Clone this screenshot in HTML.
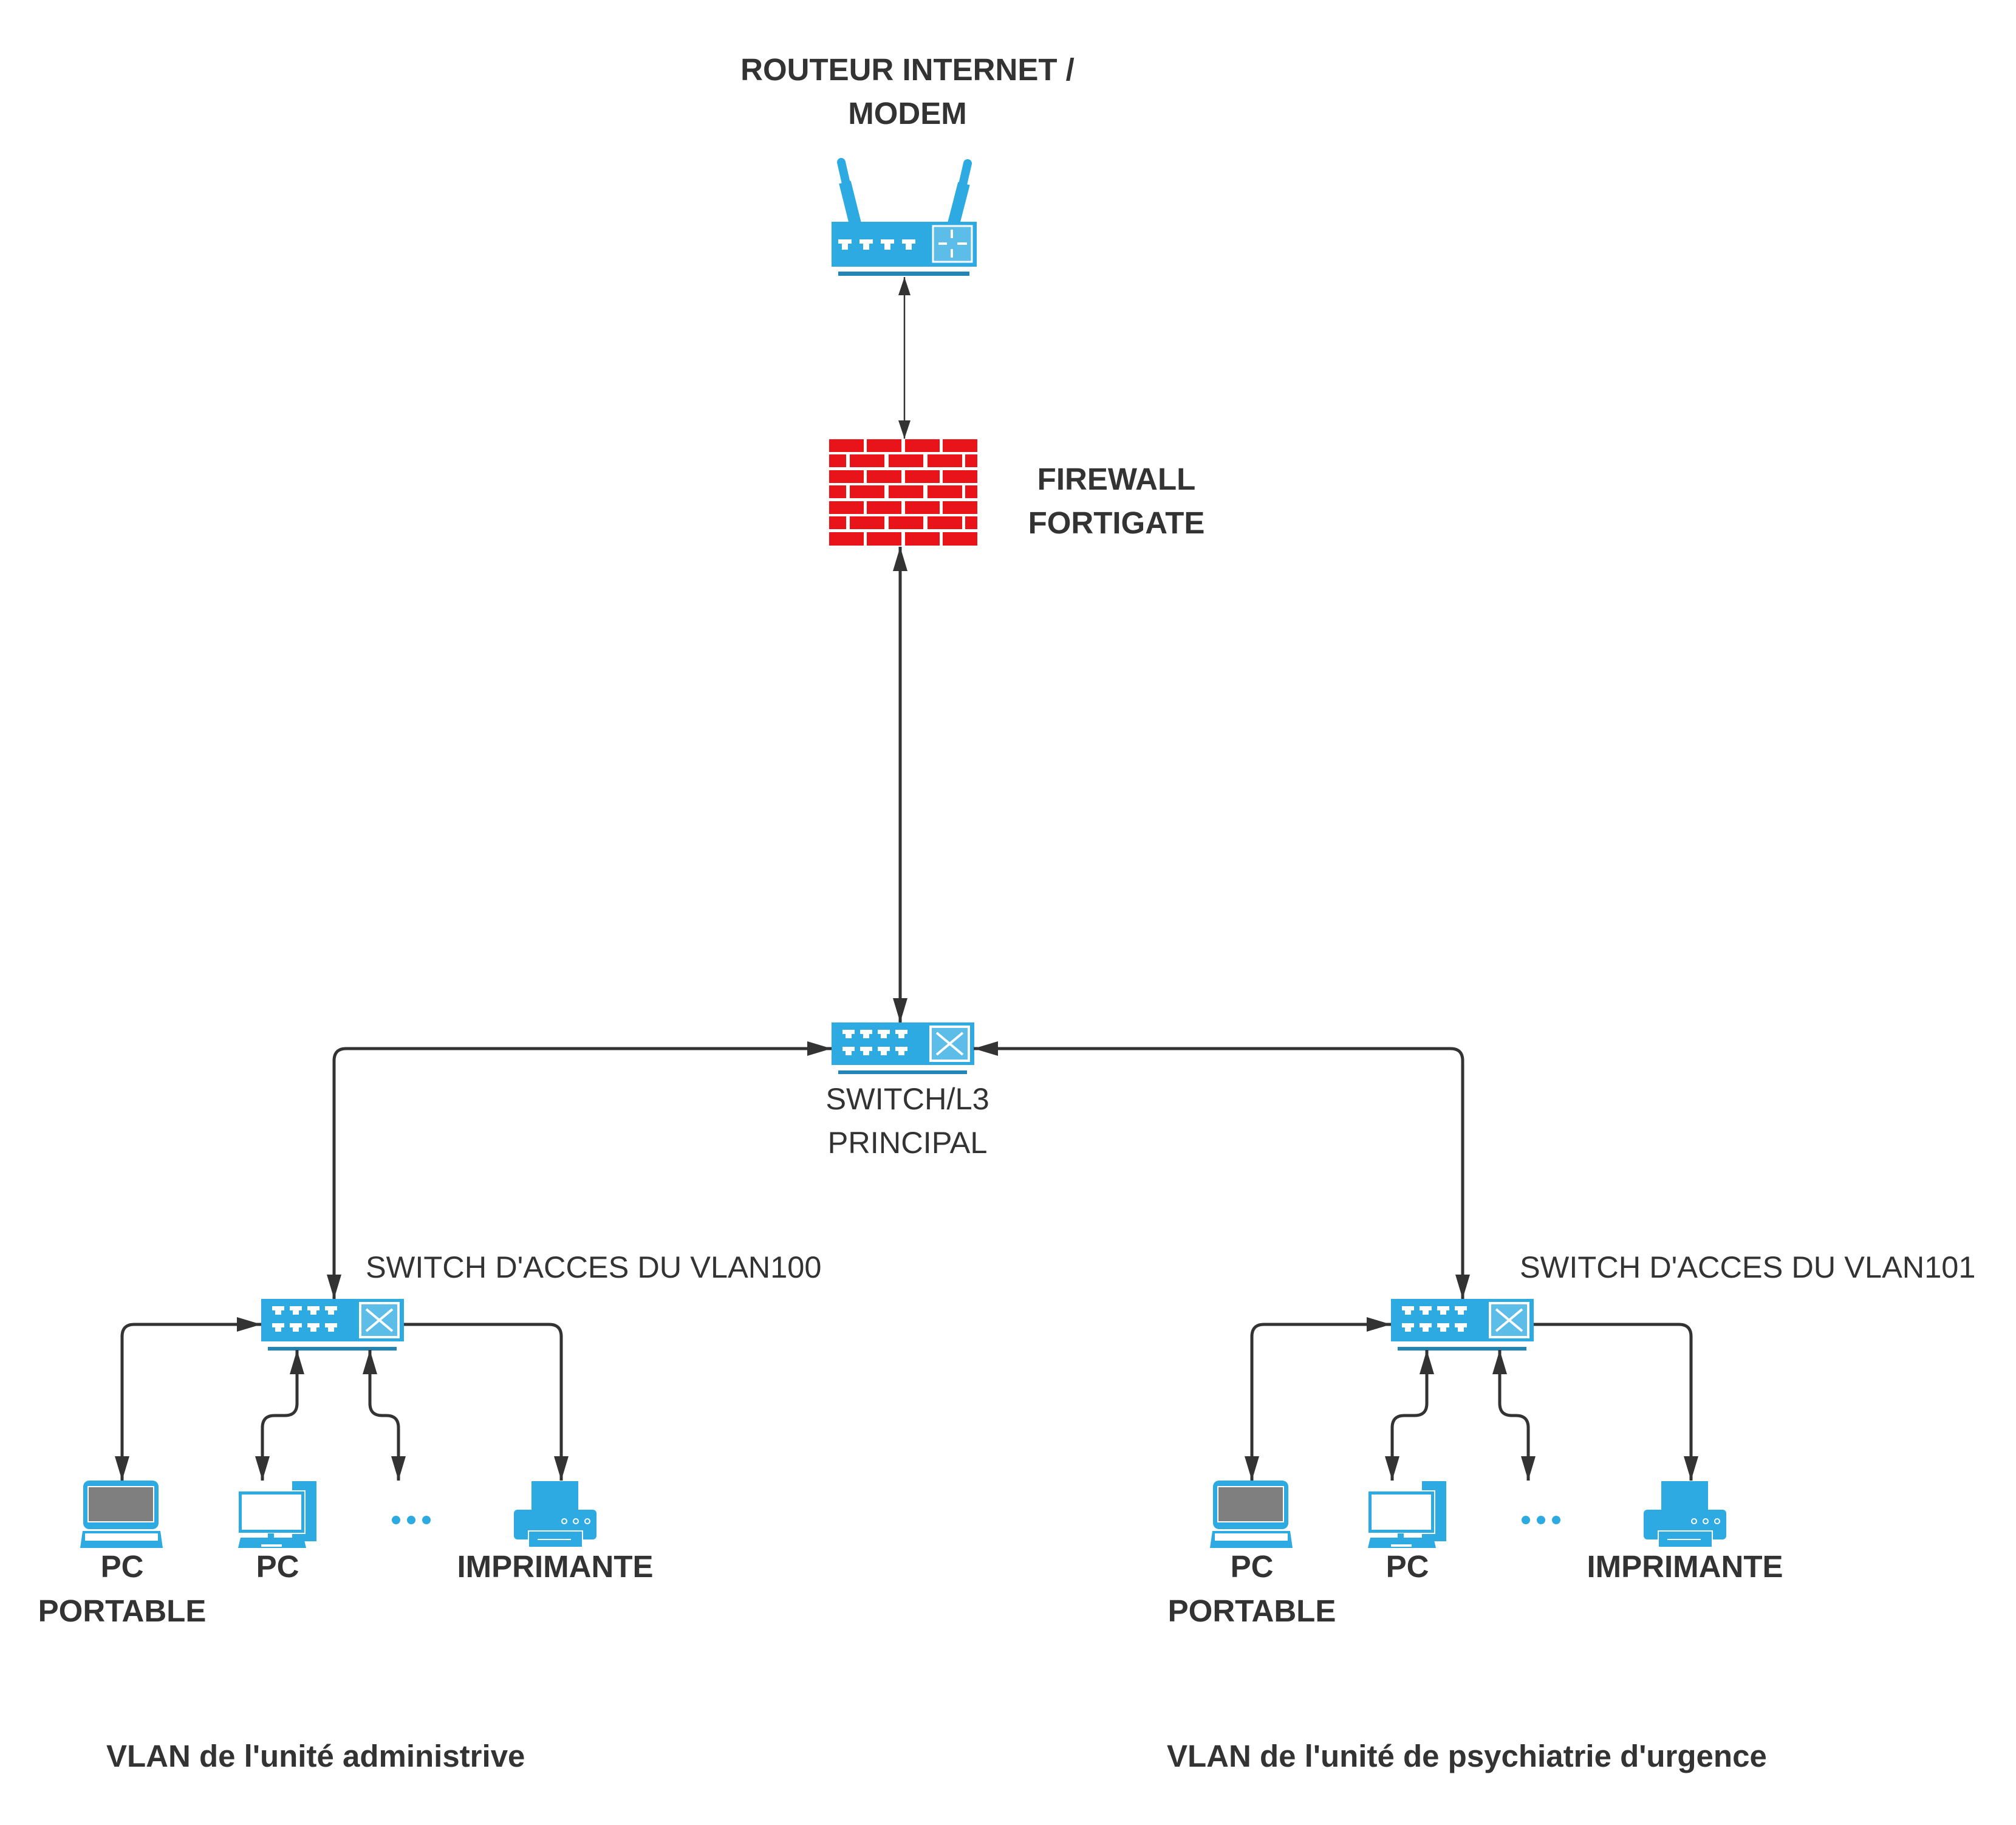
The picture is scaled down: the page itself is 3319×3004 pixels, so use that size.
<!DOCTYPE html>
<html><head><meta charset="utf-8"><style>
html,body{margin:0;padding:0;background:#fff;}
svg{display:block;}
text{font-family:"Liberation Sans",sans-serif;fill:#333;}
.b{font-weight:bold;font-size:51px;}
.n{font-size:50.5px;}
</style></head><body>
<svg width="3319" height="3004" viewBox="0 0 3319 3004" xmlns="http://www.w3.org/2000/svg">
<defs>
<g id="port"><rect x="0" y="0" width="20" height="7" fill="#fff"/><rect x="5" y="6" width="10" height="8" fill="#fff"/></g>
<g id="rport"><rect x="0" y="0" width="22" height="7" fill="#fff"/><rect x="6" y="6" width="10" height="11" fill="#fff"/></g>
<g id="sw">
<rect x="0" y="0" width="235" height="70" fill="#2DAAE1"/>
<use href="#port" x="18" y="12"/><use href="#port" x="47" y="12"/><use href="#port" x="76" y="12"/><use href="#port" x="105" y="12"/>
<use href="#port" x="18" y="40"/><use href="#port" x="47" y="40"/><use href="#port" x="76" y="40"/><use href="#port" x="105" y="40"/>
<rect x="163" y="7" width="63" height="56" fill="#5BBDE8" stroke="#fff" stroke-width="4"/>
<path d="M173 17 L216 53 M216 17 L173 53" stroke="#fff" stroke-width="4" fill="none"/>
<rect x="11" y="79" width="212" height="6" fill="#2385B5"/>
</g>
<marker id="a" viewBox="0 0 40 24" refX="40" refY="12" markerWidth="40" markerHeight="24" markerUnits="userSpaceOnUse" orient="auto-start-reverse"><path d="M0 0 L40 12 L0 24 z" fill="#333"/></marker>
<marker id="as" viewBox="0 0 30 20" refX="30" refY="10" markerWidth="30" markerHeight="20" markerUnits="userSpaceOnUse" orient="auto-start-reverse"><path d="M0 0 L30 10 L0 20 z" fill="#333"/></marker>
<g id="laptop">
<rect x="137" y="2437" width="124" height="80" rx="10" fill="#2DAAE1"/>
<rect x="145" y="2447" width="108" height="58" fill="#7f7f7f" stroke="#fff" stroke-width="2"/>
<path d="M136 2520 L264 2520 L268 2548 L132 2548 Z" fill="#2DAAE1"/>
<rect x="140" y="2524" width="120" height="12" fill="#fff"/>
</g>
<g id="pc">
<rect x="481" y="2438" width="40" height="99" fill="#2DAAE1"/>
<rect x="392" y="2454" width="110" height="70" fill="#2DAAE1" stroke="#fff" stroke-width="2"/>
<rect x="398" y="2460" width="98" height="58" fill="#fff"/>
<rect x="441" y="2524" width="10" height="8" fill="#2DAAE1"/>
<path d="M396 2531 L500 2531 L504 2548 L392 2548 Z" fill="#2DAAE1"/>
<rect x="430" y="2542" width="34" height="4" fill="#fff"/>
<circle cx="652" cy="2502" r="7" fill="#2DAAE1"/><circle cx="677" cy="2502" r="7" fill="#2DAAE1"/><circle cx="702" cy="2502" r="7" fill="#2DAAE1"/>
</g>
<g id="printer">
<rect x="875" y="2438" width="77" height="48" fill="#2DAAE1"/>
<rect x="846" y="2485" width="136" height="49" rx="6" fill="#2DAAE1"/>
<rect x="870" y="2520" width="89" height="27" fill="#2DAAE1" stroke="#fff" stroke-width="2"/>
<rect x="885" y="2533" width="55" height="2" fill="#fff"/>
<circle cx="929" cy="2504" r="4" fill="none" stroke="#fff" stroke-width="2"/><circle cx="948" cy="2504" r="4" fill="none" stroke="#fff" stroke-width="2"/><circle cx="967" cy="2504" r="4" fill="none" stroke="#fff" stroke-width="2"/>
</g>
<g id="group">
<use href="#sw" x="430" y="2138"/>
<path d="M430 2180 L221 2180 Q201 2180 201 2200 L201 2437" stroke="#333" stroke-width="5" fill="none" marker-start="url(#a)" marker-end="url(#a)"/>
<path d="M665 2180 L904 2180 Q924 2180 924 2200 L924 2437" stroke="#333" stroke-width="5" fill="none" marker-end="url(#a)"/>
<path d="M489 2222 L489 2310 Q489 2330 469 2330 L452 2330 Q432 2330 432 2350 L432 2437" stroke="#333" stroke-width="5" fill="none" marker-start="url(#a)" marker-end="url(#a)"/>
<path d="M609 2222 L609 2310 Q609 2330 629 2330 L636 2330 Q656 2330 656 2350 L656 2437" stroke="#333" stroke-width="5" fill="none" marker-start="url(#a)" marker-end="url(#a)"/>
<use href="#laptop"/><use href="#pc"/><use href="#printer"/>
<text class="b" x="201" y="2596" text-anchor="middle">PC</text>
<text class="b" x="201" y="2669" text-anchor="middle">PORTABLE</text>
<text class="b" x="457" y="2596" text-anchor="middle">PC</text>
<text class="b" x="914" y="2596" text-anchor="middle">IMPRIMANTE</text>
</g>
</defs>

<!-- Router -->
<text class="b" x="1494" y="132" text-anchor="middle">ROUTEUR INTERNET /</text>
<text class="b" x="1494" y="204" text-anchor="middle">MODEM</text>
<path d="M1385 267 L1408 368" stroke="#2DAAE1" stroke-width="14" stroke-linecap="round"/>
<path d="M1593 269 L1570 368" stroke="#2DAAE1" stroke-width="14" stroke-linecap="round"/>
<path d="M1391 300 L1408 368" stroke="#2DAAE1" stroke-width="20"/>
<path d="M1587 302 L1570 368" stroke="#2DAAE1" stroke-width="20"/>
<rect x="1369" y="365" width="239" height="74" fill="#2DAAE1"/>
<use href="#rport" x="1380" y="394"/><use href="#rport" x="1415" y="394"/><use href="#rport" x="1450" y="394"/><use href="#rport" x="1485" y="394"/>
<rect x="1536" y="372" width="64" height="59" fill="#5BBDE8" stroke="#fff" stroke-width="3"/>
<path d="M1567 378 L1567 392 M1567 424 L1567 410 M1545 401 L1559 401 M1592 401 L1576 401" stroke="#fff" stroke-width="4"/>
<rect x="1380" y="447" width="216" height="7" fill="#2385B5"/>
<path d="M1489 456 L1489 722" stroke="#333" stroke-width="2.5" fill="none" marker-start="url(#as)" marker-end="url(#as)"/>

<!-- Firewall -->
<g fill="#E8141A">
<rect x="1365" y="723" width="57" height="21"/><rect x="1427" y="723" width="57" height="21"/><rect x="1490" y="723" width="57" height="21"/><rect x="1552" y="723" width="57" height="21"/>
<rect x="1365" y="748" width="28" height="21"/><rect x="1399" y="748" width="57" height="21"/><rect x="1463" y="748" width="57" height="21"/><rect x="1527" y="748" width="57" height="21"/><rect x="1589" y="748" width="20" height="21"/>
<rect x="1365" y="774" width="57" height="21"/><rect x="1427" y="774" width="57" height="21"/><rect x="1490" y="774" width="57" height="21"/><rect x="1552" y="774" width="57" height="21"/>
<rect x="1365" y="799" width="28" height="21"/><rect x="1399" y="799" width="57" height="21"/><rect x="1463" y="799" width="57" height="21"/><rect x="1527" y="799" width="57" height="21"/><rect x="1589" y="799" width="20" height="21"/>
<rect x="1365" y="825" width="57" height="21"/><rect x="1427" y="825" width="57" height="21"/><rect x="1490" y="825" width="57" height="21"/><rect x="1552" y="825" width="57" height="21"/>
<rect x="1365" y="850" width="28" height="21"/><rect x="1399" y="850" width="57" height="21"/><rect x="1463" y="850" width="57" height="21"/><rect x="1527" y="850" width="57" height="21"/><rect x="1589" y="850" width="20" height="21"/>
<rect x="1365" y="876" width="57" height="22"/><rect x="1427" y="876" width="57" height="22"/><rect x="1490" y="876" width="57" height="22"/><rect x="1552" y="876" width="57" height="22"/>
</g>
<text class="b" x="1838" y="806" text-anchor="middle">FIREWALL</text>
<text class="b" x="1838" y="878" text-anchor="middle">FORTIGATE</text>

<path d="M1482 900 L1482 1683" stroke="#333" stroke-width="5" fill="none" marker-start="url(#a)" marker-end="url(#a)"/>

<!-- Main switch -->
<use href="#sw" x="1369" y="1683"/>
<text class="n" x="1494" y="1826" text-anchor="middle">SWITCH/L3</text>
<text class="n" x="1494" y="1898" text-anchor="middle">PRINCIPAL</text>
<path d="M1369 1726 L570 1726 Q550 1726 550 1746 L550 2138" stroke="#333" stroke-width="5" fill="none" marker-start="url(#a)" marker-end="url(#a)"/>
<path d="M1603 1726 L2388 1726 Q2408 1726 2408 1746 L2408 2138" stroke="#333" stroke-width="5" fill="none" marker-start="url(#a)" marker-end="url(#a)"/>

<text class="n" x="602" y="2103">SWITCH D'ACCES DU VLAN100</text>
<text class="n" x="2502" y="2103">SWITCH D'ACCES DU VLAN101</text>

<use href="#group"/>
<use href="#group" x="1860"/>

<text class="b" x="175" y="2908">VLAN de l'unité administrive</text>
<text class="b" x="1921" y="2908">VLAN de l'unité de psychiatrie d'urgence</text>
</svg>
</body></html>
